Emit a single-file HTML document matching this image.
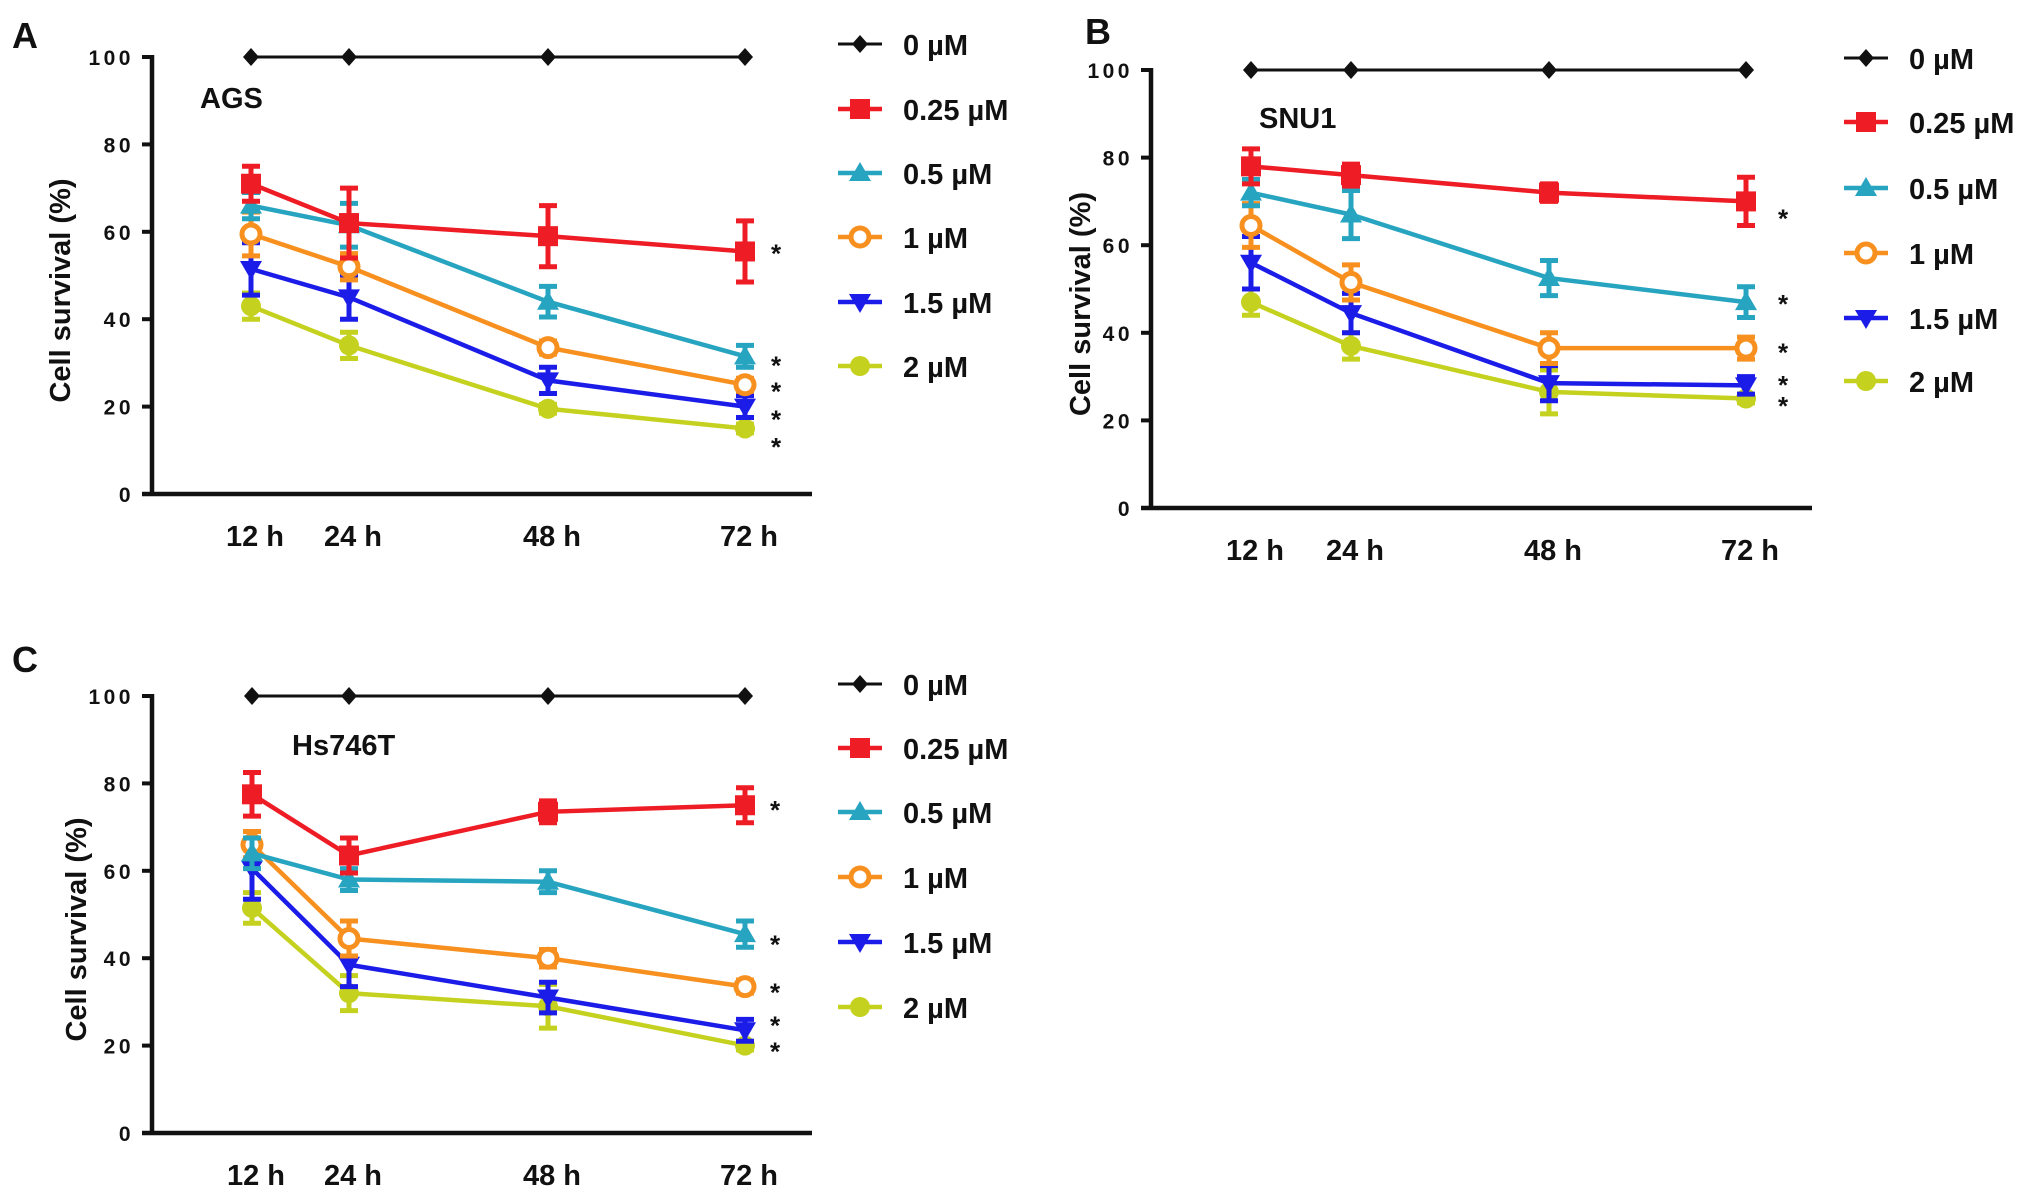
<!DOCTYPE html>
<html><head><meta charset="utf-8">
<style>
html,body{margin:0;padding:0;background:#fff;}
svg{display:block;}
text{font-family:"Liberation Sans",sans-serif;font-weight:bold;fill:#111;}
</style></head>
<body>
<svg id="fig" width="2031" height="1195" viewBox="0 0 2031 1195"></svg>
<script>
// ---- data ----
const timeLabels = ["12 h","24 h","48 h","72 h"];
const seriesNames = ["0 µM","0.25 µM","0.5 µM","1 µM","1.5 µM","2 µM"];
const yTicks = [0,20,40,60,80,100];

const agsMeans = [
  [100,100,100,100],
  [71,62,59,55.5],
  [66,61.5,44,31.5],
  [59.5,52,33.5,25],
  [51.5,45,26,20],
  [43,34,19.5,15]
];
const agsErrors = [
  [0,0,0,0],
  [4,8,7,7],
  [3,5,3.5,2.5],
  [5,3,1.5,1.5],
  [6,5,3,2.5],
  [3,3,1,1]
];
const agsStars = [56,30.3,24.4,18,11.7];

const snuMeans = [
  [100,100,100,100],
  [78,76,72,70],
  [72,67,52.5,47],
  [64.5,51.5,36.5,36.5],
  [56,44.5,28.5,28],
  [47,37,26.5,25]
];
const snuErrors = [
  [0,0,0,0],
  [4,2.5,2,5.5],
  [3,5.5,4,3.5],
  [5,4,3.5,2.5],
  [6,4.5,4,2],
  [3,3,5,1]
];
const snuStars = [67,47.5,36.4,29,24.2];

const hsMeans = [
  [100,100,100,100],
  [77.5,63.5,73.5,75],
  [64,58,57.5,45.5],
  [66,44.5,40,33.5],
  [60.5,38.5,31,23.5],
  [51.5,32,29,20]
];
const hsErrors = [
  [0,0,0,0],
  [5,4,2.5,4],
  [3.5,2.5,2.5,3],
  [3,4,2,1.5],
  [7,5,3.5,2.5],
  [3.5,4,5,1]
];
const hsStars = [74.8,44,33.1,25.5,19.6];

// ---- styling / layout ----
const colors = ["#111111","#ee1c24","#27a4c0","#f7901e","#1c1ce8","#c5d11f"];
const markers = ["diamond","square","triangle","circle","tridown","dot"];
const NS = "http://www.w3.org/2000/svg";
const svg = document.getElementById("fig");

function el(tag, attrs, parent){
  const e = document.createElementNS(NS, tag);
  for (const k in attrs) e.setAttribute(k, attrs[k]);
  (parent||svg).appendChild(e);
  return e;
}

function marker(g, type, cx, cy, c){
  let m;
  const s = 10;
  if (type==="diamond") m = el("polygon",{points:`${cx},${cy-9} ${cx+8},${cy} ${cx},${cy+9} ${cx-8},${cy}`,fill:c},g);
  else if (type==="square") m = el("rect",{x:cx-s,y:cy-s,width:2*s,height:2*s,fill:c},g);
  else if (type==="triangle") m = el("polygon",{points:`${cx},${cy-11} ${cx+11},${cy+8} ${cx-11},${cy+8}`,fill:c},g);
  else if (type==="tridown") m = el("polygon",{points:`${cx},${cy+11} ${cx+11},${cy-8} ${cx-11},${cy-8}`,fill:c},g);
  else if (type==="circle") m = el("circle",{cx:cx,cy:cy,r:9,fill:"#fff",stroke:c,"stroke-width":5},g);
  else m = el("circle",{cx:cx,cy:cy,r:10,fill:c},g);
  return m;
}

function panel(cfg, means, errors, stars){
  const g = el("g",{});
  
  
  const yS = v => cfg.y0 - (cfg.y0 - cfg.y100) * v / 100;
  const xS = i => cfg.xs[i];
  const L = el("text",{x:cfg.letterX,y:cfg.letterY,"font-size":36},g);
  L.textContent = cfg.letter;
  
  
  const ya = el("line",{x1:cfg.ax,y1:cfg.y100-2,x2:cfg.ax,y2:cfg.y0+2,stroke:"#111","stroke-width":4.5},g);
  
  
  const xa = el("line",{x1:cfg.ax-10,y1:cfg.y0,x2:cfg.axEnd,y2:cfg.y0,stroke:"#111","stroke-width":4.5},g);
  
  
  yTicks.forEach(t=>{
    const y = yS(t);
    el("line",{x1:cfg.ax-10,y1:y,x2:cfg.ax,y2:y,stroke:"#111","stroke-width":4},g);
    const tl = el("text",{x:cfg.ax-18,y:y+8,"font-size":21,"text-anchor":"end","letter-spacing":"3.5",fill:"#222"},g);
    tl.textContent = t;
    
    
  });
  timeLabels.forEach((t,i)=>{
    const tl = el("text",{x:xS(i)+4,y:cfg.y0+52,"font-size":29,"text-anchor":"middle"},g);
    tl.textContent = t;
    
    
  });
  const yt = el("text",{x:0,y:0,"font-size":29,"text-anchor":"middle",transform:`translate(${cfg.titleX},${(cfg.y0+cfg.y100)/2+15}) rotate(-90)`},g);
  yt.textContent = "Cell survival (%)";
  
  
  const cl = el("text",{x:cfg.cellX,y:cfg.cellY,"font-size":29},g);
  cl.textContent = cfg.cell;
  
  
  for (let s = means.length-1; s >= 0; s--){
    const sg = el("g",{},g);
    
    
    const pts = means[s].map((v,i)=>`${xS(i)},${yS(v)}`).join(" ");
    el("polyline",{points:pts,fill:"none",stroke:colors[s],"stroke-width":s===0?3:4.5},sg);
    means[s].forEach((v,i)=>{
      const e = errors[s][i];
      if (e>0){
        const x = xS(i), y1 = yS(v+e), y2 = yS(v-e);
        const eb = el("path",{d:`M${x},${y1}V${y2}M${x-9},${y1}H${x+9}M${x-9},${y2}H${x+9}`,stroke:colors[s],"stroke-width":5,fill:"none"},sg);
        
        
      }
      const m = marker(sg, markers[s], xS(i), yS(v), colors[s]);
      
      
    });
  }
  stars.forEach(v=>{
    const st = el("text",{x:cfg.starX,y:yS(v)+13,"font-size":26,"text-anchor":"middle"},g);
    st.textContent = "*";
    
    
  });
  seriesNames.forEach((n,i)=>{
    const y = cfg.legY[i];
    const lg = el("g",{},g);
    
    
    el("line",{x1:cfg.legX-22,y1:y,x2:cfg.legX+22,y2:y,stroke:colors[i],"stroke-width":i===0?3:4.5},lg);
    marker(lg, markers[i], cfg.legX, y, colors[i]);
    const t = el("text",{x:cfg.legX+43,y:y+11,"font-size":29},lg);
    t.textContent = n;
  });
}

panel({name:"panel-a-ags",letter:"A",letterX:12,letterY:48,ax:152,axEnd:812,y100:57,y0:494,
  xs:[251,349,548,745],titleX:70,cellX:200,cellY:108,cell:"AGS",starX:776,
  legX:860,legY:[44,109,173,237,302,366]}, agsMeans, agsErrors, agsStars);

panel({name:"panel-b-snu1",letter:"B",letterX:1085,letterY:44,ax:1151,axEnd:1812,y100:70,y0:508,
  xs:[1251,1351,1549,1746],titleX:1090,cellX:1259,cellY:128,cell:"SNU1",starX:1783,
  legX:1866,legY:[58,122,188,253,318,381]}, snuMeans, snuErrors, snuStars);

panel({name:"panel-c-hs746t",letter:"C",letterX:12,letterY:672,ax:152,axEnd:812,y100:696,y0:1133,
  xs:[252,349,548,745],titleX:86,cellX:292,cellY:755,cell:"Hs746T",starX:775,
  legX:860,legY:[684,748,812,877,942,1007]}, hsMeans, hsErrors, hsStars);
</script>
</body></html>
